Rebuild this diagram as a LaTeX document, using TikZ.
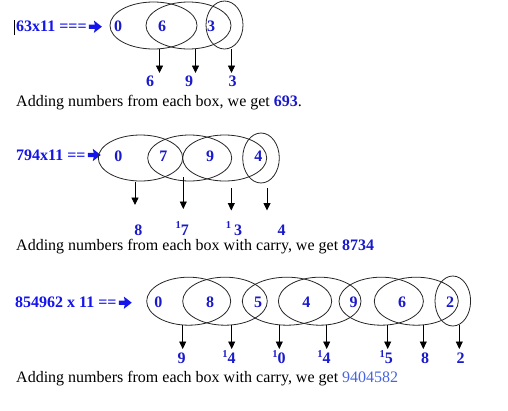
\documentclass[tikz,border=0pt]{standalone}
\usepackage{fontspec}
\setmainfont{Liberation Serif}
\usetikzlibrary{arrows.meta}
\definecolor{dgblue}{RGB}{25,25,205}
\definecolor{hdblue}{RGB}{20,20,235}
\definecolor{ltblue}{RGB}{70,100,230}
\newcommand{\sone}{\raisebox{6.5pt}{\fontsize{10.5}{11}\selectfont 1}}
\begin{document}
\begin{tikzpicture}[x=1pt,y=-1pt,
  ell/.style={draw=black!85, line width=0.8pt},
  dig/.style={font=\fontsize{16}{19}\selectfont\bfseries, text=dgblue, anchor=base, inner sep=0pt},
  sup/.style={font=\fontsize{16}{19}\selectfont\bfseries, text=dgblue, anchor=base east, inner sep=0pt},
  hdr/.style={font=\fontsize{16}{19}\selectfont\bfseries, text=hdblue, anchor=base west, inner sep=0pt},
  txt/.style={font=\fontsize{16}{19}\selectfont, anchor=base west, inner sep=0pt},
  arr/.style={-{Triangle[length=7.5pt,width=7pt]}, line width=0.9pt},
  bigarrow/.style={fill=hdblue}]
\fill[white] (0,0) rectangle (508,410);
\useasboundingbox (0,0) rectangle (508,410);

% heavy header arrow drawn from a named coordinate
\newcommand{\hdarrowat}[1]{%
  \fill[bigarrow] (#1) ++(0,-2.2) -- ++(6,0) -- ++(-1,-4) -- ++(8,6.2)
     -- ++(-8,6.2) -- ++(1,-4) -- ++(-6,0) -- cycle;}

% ---------- Section 1 ----------
\draw[line width=1.5pt] (14.5,20) -- (14.5,35);
\node[hdr] (h1) at (16,31.7) {63x11 ===};
\path (h1.base east) ++(2,-5) coordinate (a1);
\hdarrowat{a1}
\draw[ell] (153.5,25.5) ellipse [x radius=43.5pt, y radius=23.5pt];
\draw[ell] (188.5,25.5) ellipse [x radius=42.5pt, y radius=23.5pt];
\draw[ell] (224.5,25) ellipse [x radius=18.5pt, y radius=24pt];
\node[dig] (d10) at (118,31) {0};
\node[dig] (d11) at (162,31) {6};
\node[dig] (d12) at (211,31) {3};
\node[dig] (r10) at (150,86) {6};
\node[dig] (r11) at (189,86) {9};
\node[dig] (r12) at (232.5,86) {3};
\node[txt] (t1) at (16,106.5) {Adding numbers from each box, we get {\bfseries\color{dgblue}693}.};

% ---------- Section 2 ----------
\node[hdr] (h2) at (16,160) {794x11 ==};
\path (h2.base east) ++(2,-5) coordinate (a2);
\hdarrowat{a2}
\draw[ell] (140.5,158) ellipse [x radius=42.2pt, y radius=23pt];
\draw[ell] (189.7,158) ellipse [x radius=42pt, y radius=23pt];
\draw[ell] (224.7,158) ellipse [x radius=42pt, y radius=23pt];
\draw[ell] (261,158) ellipse [x radius=18.3pt, y radius=25pt];
\node[dig] (d20) at (118.3,161) {0};
\node[dig] (d21) at (163.3,161) {7};
\node[dig] (d22) at (210,161) {9};
\node[dig] (d23) at (258.3,161) {4};
\node[dig] (r20) at (138.3,235) {8};
\node[sup] (r21) at (189,235) {\sone7};
\node[sup] (r22) at (242.3,235) {\sone\kern3pt 3};
\node[dig] (r23) at (281.7,235) {4};
\node[txt] (t2) at (16,250) {Adding numbers from each box with carry, we get {\bfseries\color{dgblue}8734}};

% ---------- Section 3 ----------
\node[hdr] (h3) at (15,307.7) {854962 x 11 ==};
\path (h3.base east) ++(2,-5) coordinate (a3);
\hdarrowat{a3}
\draw[ell] (188.7,301.2) ellipse [x radius=42pt, y radius=24pt];
\draw[ell] (225,301.2) ellipse [x radius=42.3pt, y radius=24pt];
\draw[ell] (287,301.2) ellipse [x radius=44.7pt, y radius=24pt];
\draw[ell] (319.7,301.2) ellipse [x radius=41.3pt, y radius=24pt];
\draw[ell] (381.2,301.2) ellipse [x radius=42.2pt, y radius=24pt];
\draw[ell] (416.3,301.2) ellipse [x radius=42pt, y radius=24pt];
\draw[ell] (452.8,301) ellipse [x radius=17.8pt, y radius=25pt];
\node[dig] (d30) at (158.3,307.7) {0};
\node[dig] (d31) at (210,307.7) {8};
\node[dig] (d32) at (258,307.7) {5};
\node[dig] (d33) at (306.3,307.7) {4};
\node[dig] (d34) at (353.7,307.7) {9};
\node[dig] (d35) at (402,307.7) {6};
\node[dig] (d36) at (450,307.7) {2};
\node[dig] (r30) at (181.7,363.5) {9};
\node[sup] (r31) at (235.7,363.5) {\sone4};
\node[sup] (r32) at (285.7,363.5) {\sone0};
\node[sup] (r33) at (330.7,363.5) {\sone4};
\node[sup] (r34) at (393,363.5) {\sone5};
\node[dig] (r35) at (425,363.5) {8};
\node[dig] (r36) at (460.7,363.5) {2};
\node[txt] (t3) at (16,382.3) {Adding numbers from each box with carry, we get {\color{ltblue}9404582}};

% ---------- Arrows ----------
\foreach \n/\x/\ya/\yb in {
  1a/159.5/49/73, 1b/195.5/49/73, 1c/231.5/49/73,
  2a/135/182/205, 2b/183.3/177/209, 2c/231.3/188/210.5, 2d/267/188/210.5,
  3a/182.7/325.3/349, 3b/231.7/325.3/349, 3c/279.3/325.3/349, 3d/326.7/325.3/349,
  3e/387.7/325.3/349, 3f/423.3/325.3/349, 3g/459.3/325.3/349}{
  \coordinate (s\n) at (\x,\ya);
  \coordinate (e\n) at (\x,\yb);
  \draw[arr] (s\n) -- (e\n);
}
\end{tikzpicture}
\end{document}
